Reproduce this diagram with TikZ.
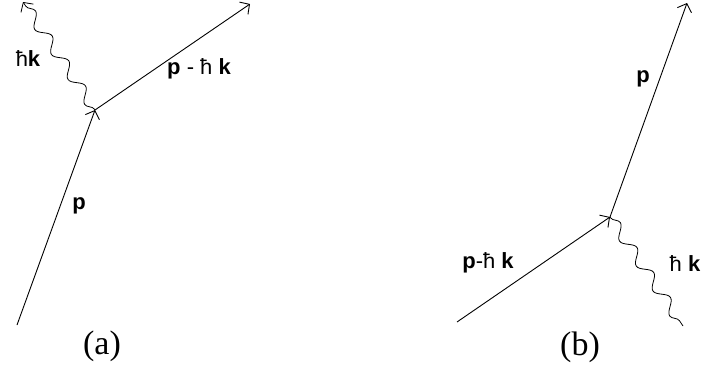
\documentclass[tikz,border=0pt]{standalone}
\usepackage{fontspec}
\setmainfont{Liberation Serif}
\setsansfont{Liberation Sans}
\usetikzlibrary{arrows.meta,decorations.pathmorphing}
\tikzset{
  mom/.style={line width=0.9pt,-{Straight Barb[length=7pt,width=15pt]}},
  photon/.style={line width=0.8pt,decorate,decoration={snake,amplitude=5.5pt,segment length=30pt,post length=1pt,pre length=1pt}},
  lbl/.style={font=\sffamily\fontsize{22}{24}\selectfont,inner sep=0pt},
  captext/.style={font=\fontsize{34}{36}\selectfont,inner sep=0pt}
}
\begin{document}
\begin{tikzpicture}[x=1pt,y=-1pt]
\useasboundingbox (0,0) rectangle (701,370);
% panel (a)
\coordinate (a0) at (17,325);
\coordinate (av) at (95,110);
\coordinate (a1) at (250,4);
\coordinate (aw) at (23,2);
\draw[mom] (a0) -- (av);
\draw[mom] (av) -- (a1);
\draw[photon,-{Straight Barb[length=7pt,width=15pt]}] (av) -- (aw);
\node[lbl] (la1) at (28,59) {ħ\textbf{k}};
\node[lbl] (la2) at (199,69) {\textbf{p} - ħ \textbf{k}};
\node[lbl] (la3) at (79,206) {\textbf{p}};
\node[captext] (ca) at (102,346) {(a)};
% panel (b)
\coordinate (b0) at (457,322);
\coordinate (bv) at (610,217);
\coordinate (b1) at (687,3);
\coordinate (bw) at (683,326);
\draw[mom] (b0) -- (bv);
\draw[mom] (bv) -- (b1);
\draw[photon] (bv) -- (bw);
\node[lbl] (lb1) at (488,263) {\textbf{p}-ħ \textbf{k}};
\node[lbl] (lb2) at (685,264) {ħ \textbf{k}};
\node[lbl] (lb3) at (643,79) {\textbf{p}};
\node[captext] (cb) at (580,347) {(b)};
\end{tikzpicture}
\end{document}
